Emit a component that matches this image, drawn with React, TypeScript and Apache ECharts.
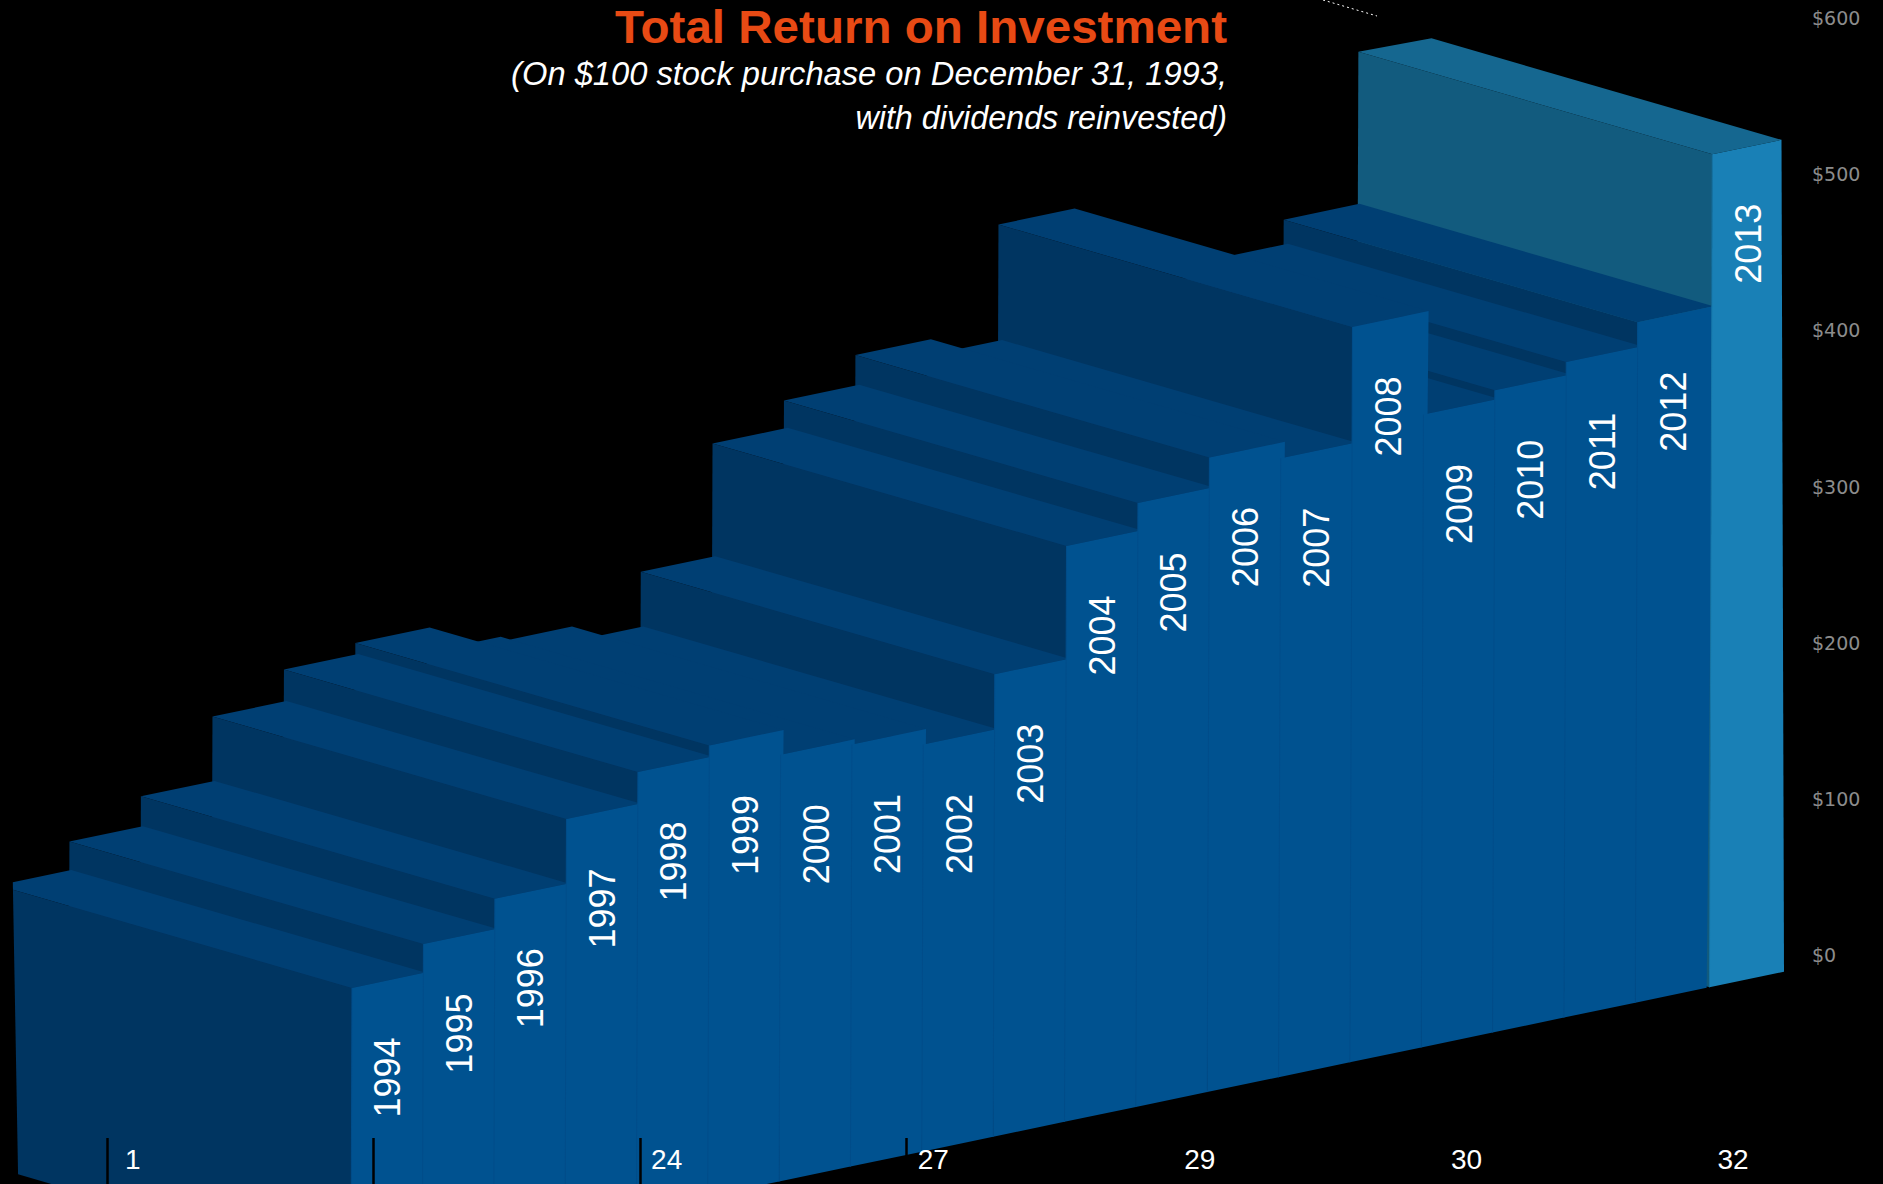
import React, { useEffect, useRef } from "react";
import * as echarts from "echarts";

const years = [1994, 1995, 1996, 1997, 1998, 1999, 2000, 2001, 2002, 2003, 2004, 2005, 2006, 2007, 2008, 2009, 2010, 2011, 2012, 2013];
const values = [181, 199.5, 219, 260.5, 281, 288.5, 273, 270, 260.5, 296, 368.5, 386.5, 406, 396, 470.5, 405, 411, 419.5, 435.5, 533];
const countLabels = ["1", "", "24", "27", "29", "30", "32"];

const FONT = '"Liberation Sans", Arial, sans-serif';
const W = 1883;
const H = 1184;
const GRID_LEFT = 351;
const GRID_RIGHT = 1778;
const GRID_TOP = 18;
const GRID_ZERO = 955;
const SLOPE = 0.2087;
const BASE_X = 1784;
const BASE_Y = 971.7;
const DEPTH_X = -354;
const DEPTH_Y = -102.5;

const NORMAL = { front: "#005290", wall: "#003561", top: "#003f73", edge: "#004d8a" };
const HIGHLIGHT = { front: "#1980b6", wall: "#125b7e", top: "#156790", edge: "#1676a8" };

type P = number[];

const shear = (x: number, y: number): P => [x, y + BASE_Y + SLOPE * (BASE_X - x) - GRID_ZERO];

// the oldest bar's wall is cut off by a slightly tilted vertical line
const clipLeft = (poly: P[]): P[] => {
  const edge = (p: P) => p[0] - (12.8 + ((p[1] - 881) * 5.2) / 290);
  const out: P[] = [];
  poly.forEach((a, i) => {
    const b = poly[(i + 1) % poly.length];
    const ea = edge(a);
    const eb = edge(b);
    if (ea >= 0) out.push(a);
    if (ea >= 0 !== eb >= 0) {
      const t = ea / (ea - eb);
      out.push([a[0] + (b[0] - a[0]) * t, a[1] + (b[1] - a[1]) * t]);
    }
  });
  return out;
};

// screen corners of one bar's front face, from the library's scales
const corners = (api: any, i: number, v: number) => {
  const isLast = i === years.length - 1;
  const l0 = api.coord([i, 0]);
  const lv = api.coord([i, v]);
  const r0 = api.coord([i + 1, 0]);
  const rv = api.coord([i + 1, v]);
  const h = l0[1] - lv[1];
  const extraL = isLast ? 2.8 : 0;
  const extraR = isLast ? 6 : 0;
  return {
    lb: shear(l0[0] + extraL, l0[1]),
    lt: shear(l0[0] + extraL + 0.0035 * h, lv[1]),
    rb: shear(r0[0] + extraR, r0[1]),
    rt: shear(rv[0] + (isLast ? extraR - 0.003 * h : 0.01 * h), rv[1]),
  };
};

const back = (p: P): P => [p[0] + DEPTH_X, p[1] + DEPTH_Y];

const renderDepth = (_: any, api: any) => {
  const i = api.value(0);
  const c = corners(api, i, api.value(1));
  const isLast = i === years.length - 1;
  const colors = isLast ? HIGHLIGHT : NORMAL;
  const br = back(c.rt);
  const backRight = isLast ? [br[0] + 4, br[1] + 1] : br;
  return {
    type: "group",
    children: [
      {
        type: "polygon",
        shape: { points: clipLeft([c.lb, c.lt, back(c.lt), back(c.lb)]) },
        style: { fill: colors.wall },
      },
      {
        type: "polygon",
        shape: { points: clipLeft([c.lt, c.rt, backRight, back(c.lt)]) },
        style: { fill: colors.top },
      },
    ],
  };
};

const renderFront = (_: any, api: any) => {
  const i = api.value(0);
  const c = corners(api, i, api.value(1));
  const colors = i === years.length - 1 ? HIGHLIGHT : NORMAL;
  return {
    type: "group",
    children: [
      {
        type: "polygon",
        shape: { points: [c.lb, c.lt, c.rt, c.rb] },
        style: { fill: colors.front },
      },
      {
        type: "line",
        shape: { x1: c.lb[0], y1: c.lb[1], x2: c.lt[0], y2: c.lt[1] },
        style: { stroke: colors.edge, lineWidth: 1 },
      },
      {
        type: "text",
        x: c.lt[0] + 36,
        y: c.lt[1] + 89.5,
        rotation: Math.PI / 2,
        style: {
          text: String(years[i]),
          fill: "#ffffff",
          font: `36px ${FONT}`,
          align: "center",
          verticalAlign: "middle",
        },
      },
    ],
  };
};

const textEl = (text: string, y: number, font: string, fill: string, scaleX = 1) => ({
  type: "text",
  x: 1227,
  y,
  scaleX,
  style: { text, font, fill, align: "right", verticalAlign: "middle" },
});

export default function App() {
  const ref = useRef<HTMLDivElement>(null);
  useEffect(() => {
    const chart = echarts.init(ref.current!, undefined, { renderer: "svg" });
    chart.setOption({
      animation: false,
      backgroundColor: "#000000",
      grid: [
        { left: GRID_LEFT, width: GRID_RIGHT - GRID_LEFT, top: GRID_TOP, height: GRID_ZERO - GRID_TOP },
        { left: 106.9, width: 1599.6, bottom: 0, height: 60 },
      ],
      xAxis: [
        { type: "value", gridIndex: 0, min: 0, max: years.length, show: false },
        {
          type: "category",
          gridIndex: 1,
          data: countLabels.map((value, i) =>
            i === 0 ? { value, textStyle: { align: "left", padding: [0, 0, 0, 18] } } : { value }
          ),
          boundaryGap: false,
          z: 6,
          axisLine: { show: false },
          axisTick: { show: true, inside: true, length: 46, alignWithLabel: true, interval: 0, lineStyle: { color: "#000000", width: 2.5 } },
          axisLabel: {
            inside: true,
            interval: 0,
            margin: 11,
            align: "left",
            padding: [0, 0, 0, 11],
            color: "#ffffff",
            fontFamily: FONT,
            fontSize: 28,
          },
        },
      ],
      yAxis: [
        {
          type: "value",
          gridIndex: 0,
          position: "right",
          min: 0,
          max: 600,
          interval: 100,
          axisLine: { show: false },
          axisTick: { show: false },
          splitLine: { show: false },
          axisLabel: {
            margin: 34,
            color: "#8c8c8c",
            fontFamily: '"DejaVu Sans", sans-serif',
            fontSize: 19,
            formatter: (v: number) => `$${v}`,
          },
        },
        { type: "value", gridIndex: 1, show: false },
      ],
      series: [
        {
          type: "custom",
          coordinateSystem: "cartesian2d",
          xAxisIndex: 0,
          yAxisIndex: 0,
          clip: false,
          z: 2,
          renderItem: renderDepth,
          data: values.map((v, i) => [i, v]).reverse(),
        },
        {
          type: "custom",
          coordinateSystem: "cartesian2d",
          xAxisIndex: 0,
          yAxisIndex: 0,
          clip: false,
          z: 3,
          renderItem: renderFront,
          data: values.map((v, i) => [i, v]),
        },
      ],
      graphic: [
        textEl("Total Return on Investment", 26.5, `bold 47px ${FONT}`, "#e84a14", 1.012),
        textEl("(On $100 stock purchase on December 31, 1993,", 73, `italic 32.7px ${FONT}`, "#ffffff"),
        textEl("with dividends reinvested)", 118, `italic 32.3px ${FONT}`, "#ffffff"),
        {
          type: "line",
          shape: { x1: 1323, y1: 0, x2: 1377, y2: 16 },
          style: { stroke: "#ffffff", lineWidth: 1, lineDash: [2, 3] },
        },
      ],
    });
    return () => chart.dispose();
  }, []);
  return <div ref={ref} style={{ position: "absolute", left: 0, top: 0, width: W, height: H }} />;
}
